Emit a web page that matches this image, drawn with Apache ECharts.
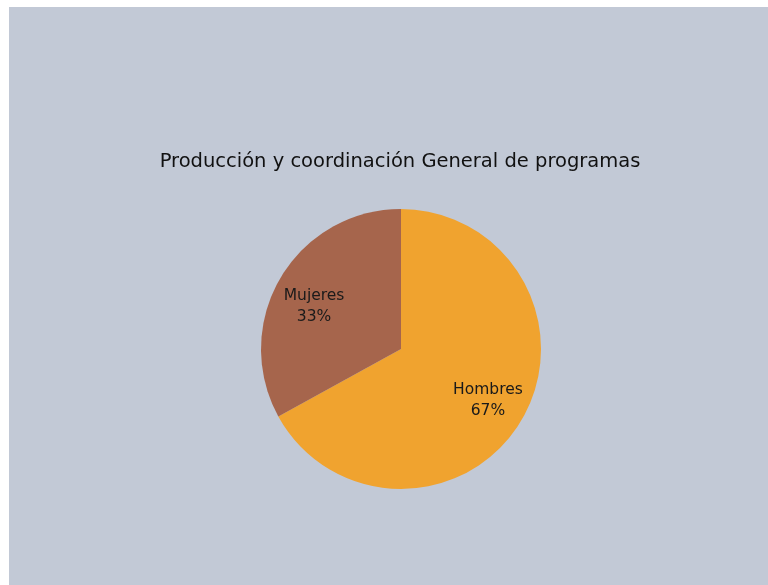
<!DOCTYPE html>
<html>
<head>
<meta charset="utf-8">
<script src="https://cdn.jsdelivr.net/npm/echarts@6/dist/echarts.min.js"></script>
<style>
  html, body { margin: 0; padding: 0; background: #ffffff; }
  #chart { position: absolute; left: 9px; top: 7px; width: 759px; height: 578px; }
</style>
</head>
<body>
<div id="chart"></div>
<script>
// Distribution by gender
const titleText = 'Producción y coordinación General de programas';
const categories = ['Hombres', 'Mujeres'];
const shares = [67, 33];
const colors = ['#f0a32f', '#a6654c'];

const pieData = categories.map((name, i) => ({ name, value: shares[i] }));
// small vertical nudge per slice label
const labelNudge = [[0, 0], [0, 9]];

const chart = echarts.init(document.getElementById('chart'));
const center = [392, 342];
chart.setOption({
  backgroundColor: '#c2c9d6',
  animation: false,
  title: {
    text: titleText,
    left: 386,
    textAlign: 'center',
    top: 140,
    textStyle: {
      fontFamily: 'DejaVu Sans',
      fontSize: 19.5,
      fontWeight: 'normal',
      color: '#111111'
    }
  },
  series: [
    {
      type: 'pie',
      center: center,
      radius: 140,
      startAngle: 90,
      clockwise: true,
      silent: true,
      color: colors,
      label: { show: false },
      labelLine: { show: false },
      data: pieData
    },
    {
      // transparent companion ring used only to place the slice labels further out
      type: 'pie',
      center: center,
      radius: 196,
      startAngle: 90,
      clockwise: true,
      silent: true,
      itemStyle: { color: 'rgba(0,0,0,0)' },
      label: {
        show: true,
        position: 'inside',
        formatter: p => p.name + '\n' + p.value + '%',
        fontFamily: 'DejaVu Sans',
        fontSize: 15.5,
        lineHeight: 21,
        color: '#1a1a1a',
        align: 'center'
      },
      labelLine: { show: false },
      data: pieData.map((d, i) => ({ ...d, label: { offset: labelNudge[i] } }))
    }
  ]
});
</script>
</body>
</html>
